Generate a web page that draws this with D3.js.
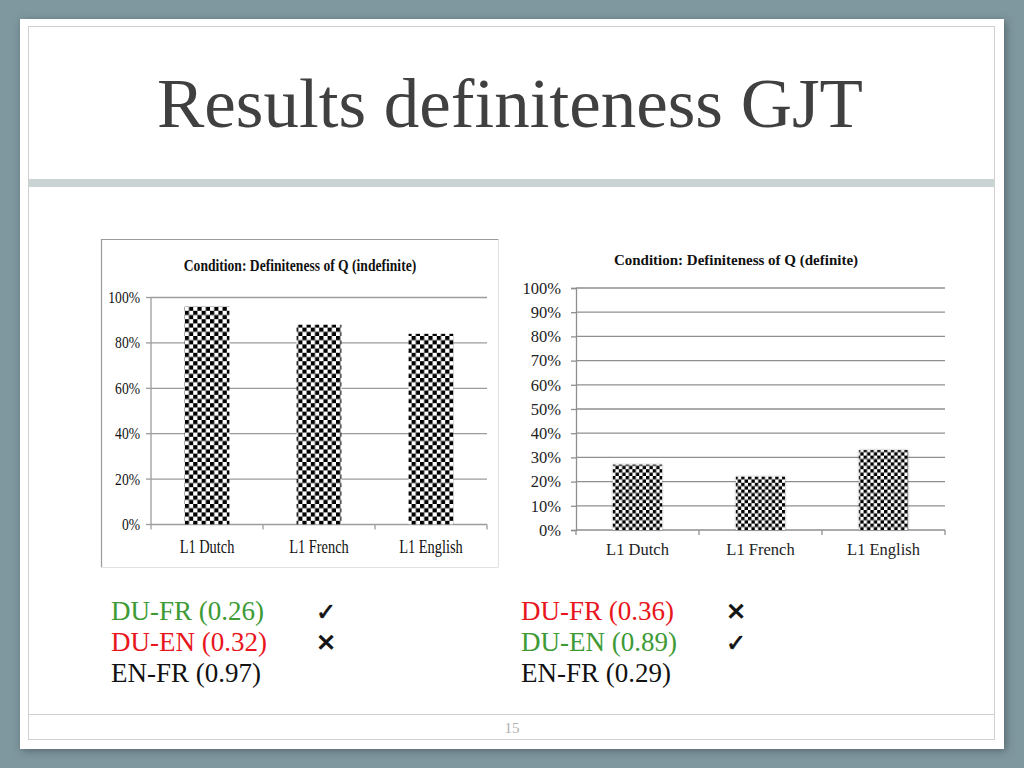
<!DOCTYPE html>
<html>
<head>
<meta charset="utf-8">
<script src="https://cdn.jsdelivr.net/npm/d3@7"></script>
<style>
  html, body { margin: 0; padding: 0; background: #7f979f; }
  svg { display: block; }
  text { font-family: 'Liberation Serif', 'Times New Roman', serif; }
</style>
</head>
<body>
<svg id="chart" width="1024" height="768"></svg>
<script>
// ---------- data ----------
const slideTitle = "Results definiteness GJT";
const categories = ["L1 Dutch", "L1 French", "L1 English"];
const indefiniteTitle = "Condition: Definiteness of Q (indefinite)";
const indefiniteValues = [0.96, 0.88, 0.84];
const indefiniteTicks = [0, 0.2, 0.4, 0.6, 0.8, 1.0];
const definiteTitle = "Condition: Definiteness of Q (definite)";
const definiteValues = [0.27, 0.22, 0.33];
const definiteTicks = [0, 0.1, 0.2, 0.3, 0.4, 0.5, 0.6, 0.7, 0.8, 0.9, 1.0];
const leftComparisons = ["DU-FR (0.26)", "DU-EN (0.32)", "EN-FR (0.97)"];
const leftMarks = ["✓", "✕", ""];
const leftColors = ["#3d9a35", "#e8161c", "#111111"];
const rightComparisons = ["DU-FR (0.36)", "DU-EN (0.89)", "EN-FR (0.29)"];
const rightMarks = ["✕", "✓", ""];
const rightColors = ["#e8161c", "#3d9a35", "#111111"];
const pageNumber = "15";

const SERIF = "'Liberation Serif', 'Times New Roman', serif";

// ---------- slide ----------
const svg = d3.select("#chart");
const defs = svg.append("defs");

const sh = defs.append("filter").attr("id", "slideShadow")
  .attr("x", "-5%").attr("y", "-5%").attr("width", "110%").attr("height", "110%");
sh.append("feDropShadow").attr("dx", 2).attr("dy", 2).attr("stdDeviation", 4)
  .attr("flood-color", "#3a4a50").attr("flood-opacity", 0.6);

function checker(id, cell) {
  const p = defs.append("pattern").attr("id", id)
    .attr("patternUnits", "userSpaceOnUse").attr("width", cell * 2).attr("height", cell * 2);
  p.append("rect").attr("width", cell * 2).attr("height", cell * 2).attr("fill", "#fff");
  p.append("rect").attr("width", cell).attr("height", cell).attr("fill", "#000");
  p.append("rect").attr("x", cell).attr("y", cell).attr("width", cell).attr("height", cell).attr("fill", "#000");
}
checker("chkLeft", 4.2);
checker("chkRight", 3.4);

const barSh = defs.append("filter").attr("id", "barShadow")
  .attr("x", "-20%").attr("y", "-20%").attr("width", "140%").attr("height", "140%");
barSh.append("feDropShadow").attr("dx", 0).attr("dy", 0).attr("stdDeviation", 1.2)
  .attr("flood-color", "#000").attr("flood-opacity", 0.35);

svg.append("rect").attr("x", 20).attr("y", 19).attr("width", 984).attr("height", 730)
  .attr("fill", "#fff").attr("filter", "url(#slideShadow)");
svg.append("rect").attr("x", 28.5).attr("y", 26.5).attr("width", 966).attr("height", 713)
  .attr("fill", "none").attr("stroke", "#d0d0d0").attr("stroke-width", 1);
svg.append("rect").attr("x", 29).attr("y", 179).attr("width", 965).attr("height", 8)
  .attr("fill", "#cbd4d4");
svg.append("line").attr("x1", 29).attr("x2", 994).attr("y1", 714.5).attr("y2", 714.5)
  .attr("stroke", "#d0d0d0");

svg.append("text").attr("x", 157).attr("y", 127)
  .style("font-family", SERIF).attr("font-size", 70)
  .attr("fill", "#404040")
  .attr("textLength", 706).attr("lengthAdjust", "spacingAndGlyphs")
  .text(slideTitle);

svg.append("text").attr("x", 512).attr("y", 733).attr("text-anchor", "middle")
  .style("font-family", SERIF).attr("font-size", 15)
  .attr("fill", "#b0b0b0").text(pageNumber);

// ---------- left chart (indefinite) ----------
(function () {
  const g = svg.append("g");
  g.append("path").attr("d", "M498.5,239.5 H101.5 V567.5")
    .attr("fill", "none").attr("stroke", "#9a9a9a").attr("stroke-width", 1.2);
  g.append("path").attr("d", "M101.5,567.5 H498.5 V239.5")
    .attr("fill", "none").attr("stroke", "#e2e2e2").attr("stroke-width", 1);

  const x = d3.scaleBand().domain(categories).range([151, 487]).paddingInner(0.6).paddingOuter(0.3);
  const y = d3.scaleLinear().domain([0, 1]).range([524.5, 297.5]);
  const sx = 0.8;

  g.selectAll(".grid").data(indefiniteTicks.slice(1)).join("line")
    .attr("x1", 151).attr("x2", 487).attr("y1", d => y(d)).attr("y2", d => y(d))
    .attr("stroke", "#9c9c9c").attr("stroke-width", 1.3);
  g.append("line").attr("x1", 151).attr("x2", 151).attr("y1", y(1)).attr("y2", y(0))
    .attr("stroke", "#9c9c9c").attr("stroke-width", 1.3);
  g.selectAll(".yt").data(indefiniteTicks).join("line")
    .attr("x1", 146).attr("x2", 151).attr("y1", d => y(d)).attr("y2", d => y(d))
    .attr("stroke", "#9c9c9c").attr("stroke-width", 1.3);
  g.selectAll(".yl").data(indefiniteTicks).join("text")
    .attr("transform", d => `translate(140,${y(d) + 5.5}) scale(${sx},1)`)
    .attr("text-anchor", "end").style("font-family", SERIF).attr("font-size", 17)
    .attr("fill", "#111").text(d => d3.format(".0%")(d));

  g.append("line").attr("x1", 151).attr("x2", 487).attr("y1", y(0)).attr("y2", y(0))
    .attr("stroke", "#9c9c9c").attr("stroke-width", 1.3);
  const bounds = d3.range(categories.length + 1).map(i => x.range()[0] + i * x.step());
  g.selectAll(".xt").data(bounds).join("line")
    .attr("x1", d => d).attr("x2", d => d).attr("y1", y(0)).attr("y2", y(0) + 5)
    .attr("stroke", "#9c9c9c").attr("stroke-width", 1.3);
  g.selectAll(".xl").data(categories).join("text")
    .attr("transform", d => `translate(${x(d) + x.bandwidth() / 2},553) scale(${sx},1)`)
    .attr("text-anchor", "middle").style("font-family", SERIF).attr("font-size", 18)
    .attr("fill", "#111").text(d => d);

  g.selectAll(".bar").data(indefiniteValues).join("rect")
    .attr("x", (d, i) => x(categories[i])).attr("width", x.bandwidth())
    .attr("y", d => y(d)).attr("height", d => y(0) - y(d))
    .attr("fill", "url(#chkLeft)");

  g.append("text").attr("transform", `translate(300,271) scale(${sx},1)`)
    .attr("text-anchor", "middle").style("font-family", SERIF).attr("font-weight", "bold")
    .attr("font-size", 17).attr("fill", "#111").text(indefiniteTitle);
})();

// ---------- right chart (definite) ----------
(function () {
  const g = svg.append("g");
  const x = d3.scaleBand().domain(categories).range([576, 945]).paddingInner(0.6).paddingOuter(0.3);
  const y = d3.scaleLinear().domain([0, 1]).range([530, 288]);

  g.selectAll(".grid").data(definiteTicks.slice(1)).join("line")
    .attr("x1", 576).attr("x2", 945).attr("y1", d => y(d)).attr("y2", d => y(d))
    .attr("stroke", "#8f8f8f").attr("stroke-width", 1.3);

  const yAxis = d3.axisLeft(y).tickValues(definiteTicks).tickFormat(d3.format(".0%"))
    .tickSize(5).tickPadding(10);
  const ya = g.append("g").attr("transform", "translate(576,0)").call(yAxis);
  ya.attr("font-family", null);
  ya.select(".domain").attr("stroke", "#8f8f8f").attr("stroke-width", 1.3);
  ya.selectAll(".tick line").attr("stroke", "#8f8f8f").attr("stroke-width", 1.3);
  ya.selectAll(".tick text").style("font-family", SERIF).attr("font-size", 16.5).attr("fill", "#222");

  g.append("line").attr("x1", 576).attr("x2", 945).attr("y1", y(0)).attr("y2", y(0))
    .attr("stroke", "#8f8f8f").attr("stroke-width", 1.3);
  const bounds = d3.range(categories.length + 1).map(i => x.range()[0] + i * x.step());
  g.selectAll(".xt").data(bounds).join("line")
    .attr("x1", d => d).attr("x2", d => d).attr("y1", y(0)).attr("y2", y(0) + 5)
    .attr("stroke", "#8f8f8f").attr("stroke-width", 1.3);
  g.selectAll(".xl").data(categories).join("text")
    .attr("x", d => x(d) + x.bandwidth() / 2).attr("y", 555)
    .attr("text-anchor", "middle").style("font-family", SERIF).attr("font-size", 16.5)
    .attr("fill", "#222").text(d => d);

  g.selectAll(".bar").data(definiteValues).join("rect")
    .attr("x", (d, i) => x(categories[i])).attr("width", x.bandwidth())
    .attr("y", d => y(d)).attr("height", d => y(0) - y(d))
    .attr("fill", "url(#chkRight)").attr("filter", "url(#barShadow)");

  g.append("text").attr("x", 736).attr("y", 265)
    .attr("text-anchor", "middle").style("font-family", SERIF).attr("font-weight", "bold")
    .attr("font-size", 15).attr("fill", "#111").text(definiteTitle);
})();

// ---------- significance notes ----------
function notes(xText, xMark, labels, marks, colors) {
  const rows = labels.map((l, i) => ({ l, m: marks[i], c: colors[i], i }));
  svg.selectAll(null).data(rows).join("text")
    .attr("x", xText).attr("y", d => 620 + d.i * 31)
    .style("font-family", SERIF).attr("font-size", 27)
    .attr("fill", d => d.c).text(d => d.l);
  svg.selectAll(null).data(rows.filter(d => d.m)).join("text")
    .attr("x", xMark).attr("y", d => 620 + d.i * 31).attr("text-anchor", "middle")
    .style("font-family", "'DejaVu Sans', sans-serif").attr("font-size", 24)
    .attr("fill", "#111").attr("stroke", "#111").attr("stroke-width", 0.7)
    .text(d => d.m);
}
notes(111, 326, leftComparisons, leftMarks, leftColors);
notes(521, 736, rightComparisons, rightMarks, rightColors);
</script>
</body>
</html>
